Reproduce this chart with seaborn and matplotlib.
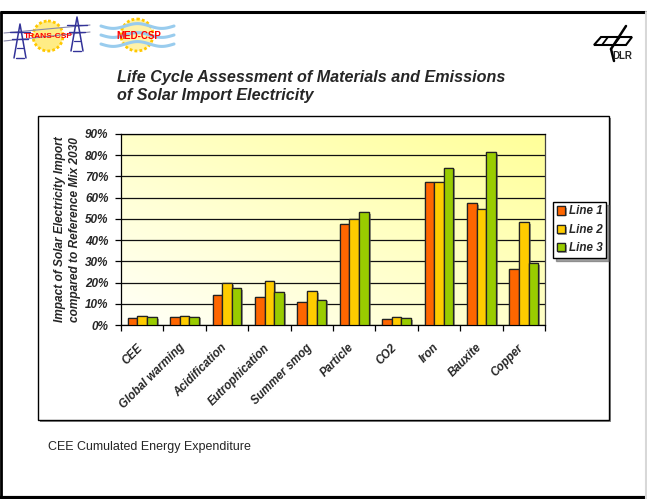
import numpy as np
import pandas as pd
import matplotlib
matplotlib.use("Agg")
import matplotlib.pyplot as plt
import matplotlib.patheffects as pe
import matplotlib.transforms as mtransforms
from matplotlib.patches import Rectangle, Circle, Polygon
from matplotlib.colors import LinearSegmentedColormap
import seaborn as sns

# ---- data -------------------------------------------------------------
categories = ["CEE", "Global warming", "Acidification", "Eutrophication",
              "Summer smog", "Particle", "CO2", "Iron", "Bauxite", "Copper"]
line1 = [3.2, 3.6, 14.2, 13.4, 11.0, 47.4, 3.0, 67.3, 57.4, 26.3]
line2 = [4.2, 4.2, 20.0, 20.9, 16.2, 50.0, 4.0, 67.3, 54.7, 48.3]
line3 = [3.6, 4.0, 17.2, 15.4, 12.0, 53.2, 3.5, 74.2, 81.6, 29.0]
series_names = ["Line 1", "Line 2", "Line 3"]
series_colors = ["#FF6600", "#FFCC00", "#99CC00"]
yticks = [0, 10, 20, 30, 40, 50, 60, 70, 80, 90]

df = pd.DataFrame({
    "category": categories * 3,
    "value": line1 + line2 + line3,
    "series": [s for s in series_names for _ in categories],
})

sns.set_theme(style="white")
plt.rcParams["font.family"] = ["Liberation Sans", "DejaVu Sans"]

W, H = 647, 499
fig = plt.figure(figsize=(W / 100, H / 100), dpi=100)

# ---- slide decoration layer (pixel coordinates) ------------------------
deco = fig.add_axes([0, 0, 1, 1], zorder=0)
deco.set_xlim(0, W)
deco.set_ylim(H, 0)
deco.axis("off")

# slide frame
deco.plot([0, W], [12, 12], color="black", lw=2.2, solid_capstyle="butt")
deco.plot([1, 1], [12, H], color="black", lw=2.0)
deco.plot([0, W], [497.5, 497.5], color="black", lw=3.0, solid_capstyle="butt")
deco.plot([645.5, 645.5], [12, H], color="#d8d8d8", lw=1.5)

# chart frame with shadow
deco.add_patch(Rectangle((40, 118), 571, 304, facecolor="#888888",
                         edgecolor="none", zorder=1))
deco.add_patch(Rectangle((38, 116), 571, 304, facecolor="white",
                         edgecolor="black", lw=1.0, zorder=2))

# TRANS-CSP logo
sun1 = Circle((48, 36), 15, facecolor="#FFEC85", edgecolor="#FFC800",
              lw=2.0, ls=(0, (1, 0.8)), zorder=3)
deco.add_patch(sun1)
for x0, ytop in ((20, 24), (77, 17)):
    ybot = ytop + 34
    deco.plot([x0 - 6, x0, x0 + 6], [ybot, ytop, ybot], color="#333399", lw=1.1, zorder=4)
    deco.plot([x0 - 4, x0 + 4], [ybot, ybot], color="#333399", lw=1.0, zorder=4)
    deco.plot([x0 - 10, x0 + 10], [ytop + 8, ytop + 8], color="#333399", lw=1.0, zorder=4)
    deco.plot([x0 - 8, x0 + 8], [ytop + 15, ytop + 15], color="#333399", lw=1.0, zorder=4)
    deco.plot([x0 - 3, x0 + 3], [ytop + 24, ytop + 24], color="#333399", lw=0.9, zorder=4)
deco.plot([4, 90], [33, 25], color="#8888aa", lw=0.8, zorder=3.5)
deco.plot([4, 90], [41, 32], color="#8888aa", lw=0.8, zorder=3.5)
deco.text(48, 36, "TRANS-CSP", color="#FF0000", fontsize=6.0, weight="bold",
          ha="center", va="center", zorder=5)

# MED-CSP logo
sun2 = Circle((137, 35), 16, facecolor="#FFF2A8", edgecolor="#FFC800",
              lw=2.0, ls=(0, (1, 0.8)), zorder=3)
deco.add_patch(sun2)
wx = np.linspace(101, 174, 120)
for wy in (26, 35, 44):
    deco.plot(wx, wy + 2.4 * np.sin((wx - 101) / 73 * 2 * np.pi * 1.5),
              color="#99CCEE", lw=2.2, zorder=3.5)
deco.text(139, 36, "MED-CSP", color="#FF0000", fontsize=7, weight="bold",
          ha="center", va="center", zorder=5)

# DLR logo
deco.plot([626, 611], [26, 49], color="black", lw=1.8, zorder=4)
deco.plot([611, 614], [49, 61], color="black", lw=1.8, zorder=4)
deco.add_patch(Polygon([(601, 37), (632, 37), (626, 45), (594, 45)],
                       closed=True, fill=False, edgecolor="black", lw=1.5, zorder=4))
deco.plot([608, 602], [37, 45], color="black", lw=1.3, zorder=4)
deco.plot([620, 614], [37, 45], color="black", lw=1.3, zorder=4)
deco.text(622, 56, "DLR", fontsize=7, weight="bold", ha="center", va="center", zorder=5)

# title and footnote
title_kw = dict(fontsize=11.6, weight="bold", style="italic", ha="left", va="center")
deco.text(117, 77, "Life Cycle Assessment of Materials and Emissions", **title_kw)
deco.text(117, 95, "of Solar Import Electricity", **title_kw)
deco.text(48, 447, "CEE Cumulated Energy Expenditure", fontsize=9,
          ha="left", va="center")

# ---- bar chart --------------------------------------------------------
ax = fig.add_axes([121 / W, 1 - 325 / H, 424 / W, 191 / H], zorder=2)

# light diagonal gradient behind the bars
gx, gy = np.meshgrid(np.linspace(0, 1, 200), np.linspace(0, 1, 200))
grad = (gx + (1 - gy)) / 2.0
cmap = LinearSegmentedColormap.from_list("bg", ["#FFFFF8", "#FFFF99"])
ax.imshow(grad, cmap=cmap, extent=(-0.5, len(categories) - 0.5, 0, 90),
          aspect="auto", origin="upper", zorder=0)

sns.barplot(data=df, x="category", y="value", hue="series",
            palette=series_colors, width=0.68, edgecolor="#222222",
            linewidth=0.9, saturation=1, ax=ax, zorder=3)

for bar in ax.patches:
    bar.set_path_effects([pe.withSimplePatchShadow(offset=(1.4, -1.4),
                                                   shadow_rgbFace="#555555",
                                                   alpha=0.55),
                          pe.Normal()])

ax.set_xlim(-0.5, len(categories) - 0.5)
ax.set_ylim(0, 90)
ax.set_yticks(yticks)
ax.set_yticklabels([f"{v}%" for v in yticks], fontsize=8.5, weight="bold",
                   style="italic")
ax.yaxis.grid(True, color="#111111", lw=0.9, zorder=1)
ax.set_axisbelow(True)

# x ticks sit between categories, labels at the centres
ax.set_xticks(np.arange(len(categories)))
ax.set_xticklabels(categories, rotation=45, ha="right", rotation_mode="anchor",
                   fontsize=8.3, weight="bold", style="italic")
ax.tick_params(axis="x", length=0, pad=12)
shift = mtransforms.ScaledTranslation(-6 / 100, 0, fig.dpi_scale_trans)
for lab in ax.get_xticklabels():
    lab.set_transform(lab.get_transform() + shift)
ax.set_xticks(np.arange(-0.5, len(categories) + 0.5, 1), minor=True)
ax.tick_params(axis="x", which="minor", length=4, width=0.9, color="black",
               direction="out", bottom=True)
ax.tick_params(axis="y", length=4, width=0.9, color="black", direction="out",
               left=True, pad=5)

for side in ("left", "bottom", "right", "top"):
    ax.spines[side].set_visible(True)
    ax.spines[side].set_color("black")
    ax.spines[side].set_linewidth(0.9)
ax.spines["right"].set_color("#444444")

ax.set_xlabel("")
ax.set_ylabel("Impact of Solar Electricity Import\ncompared to Reference Mix 2030",
              fontsize=8.6, weight="bold", style="italic", labelpad=3,
              linespacing=1.3)

# legend to the right of the plot
handles, labels = ax.get_legend_handles_labels()
ax.legend(handles, labels, loc="upper left",
          bbox_to_anchor=(553 / W, 1 - 202 / H), bbox_transform=fig.transFigure,
          prop=dict(family="Liberation Sans", weight="bold", style="italic", size=8.4),
          frameon=True, fancybox=False, shadow=True, edgecolor="black",
          handlelength=0.7, handleheight=0.7, handletextpad=0.35,
          labelspacing=0.55, borderpad=0.3, borderaxespad=0)

fig.savefig("out.png", dpi=100)
